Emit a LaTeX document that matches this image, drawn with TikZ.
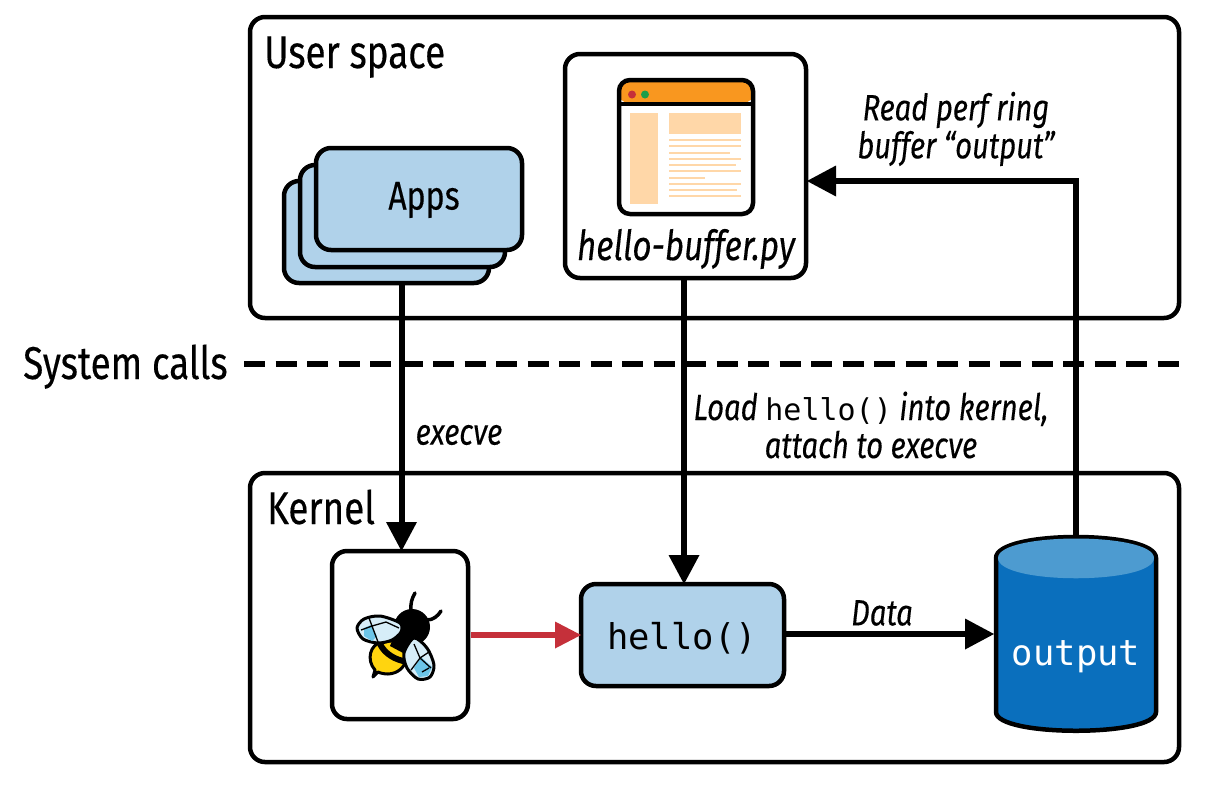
\documentclass[tikz,border=0pt]{standalone}
\usepackage{fontspec}
\setmainfont{Fira Sans}[FakeStretch=0.8,FakeBold=0.25]
\setmonofont{DejaVu Sans Mono}
\usetikzlibrary{arrows.meta}
\definecolor{lblue}{HTML}{B0D2EA}
\definecolor{dblue}{HTML}{0A6FBD}
\definecolor{mblue}{HTML}{4D9BD0}
\definecolor{ored}{HTML}{C5303A}
\definecolor{orng}{HTML}{F9971F}
\definecolor{pch}{HTML}{FFD7A8}
\definecolor{byel}{HTML}{FFD40F}
\definecolor{wing}{HTML}{D6EDF8}
\definecolor{wing2}{HTML}{6CC5E8}
\definecolor{dgreen}{HTML}{1E9E4A}
\tikzset{
  x=1pt,y=-1pt,
  box/.style={draw=black,line width=4.5pt,rounded corners=15pt,anchor=north west,inner sep=0pt,outer sep=0pt,fill=white},
  appbox/.style={box,fill=lblue},
  conn/.style={line width=6pt,-{Triangle[length=29pt,width=31pt,line width=0pt]}},
  lab/.style={font=\itshape\fontsize{36.5}{38}\selectfont,align=center,inner sep=0pt},
  head/.style={font=\fontsize{46}{48}\selectfont,inner sep=0pt,anchor=base west},
  mono/.style={font=\ttfamily\fontsize{35.5}{40}\selectfont,inner sep=0pt},
}
\begin{document}
\begin{tikzpicture}
\useasboundingbox (0,0) rectangle (1206,785);
\fill[white] (0,0) rectangle (1206,785);
\node[box,minimum width=929pt,minimum height=301pt] (user) at (250,17) {};
\node[box,minimum width=929pt,minimum height=289pt] (kernel) at (250,473) {};
\node[head] (ut) at (264,68) {User space};
\node[head] (kt) at (267,524) {Kernel};
\node[head] (sc) at (23,379) {System calls};
\node[appbox,minimum width=205pt,minimum height=102pt] (apps3) at (284,181) {};
\node[appbox,minimum width=205pt,minimum height=102pt] (apps2) at (300,165) {};
\node[appbox,minimum width=206pt,minimum height=102pt] (apps1) at (316,148) {};
\node[font=\fontsize{40}{44}\selectfont,inner sep=0pt] (appst) at (424,200) {Apps};
% script box
\node[box,minimum width=241pt,minimum height=224pt] (py) at (565,54) {};
\fill[orng,rounded corners=11pt] (618,79) -- (618,103) -- (754,103) -- (754,79) -- cycle;
\fill[pch] (630,113) rectangle (658,204);
\fill[pch] (669,113) rectangle (741,134);
\foreach \yy/\xe in {140/741,146/741,153/730,159/741,165/736,171/741,178/705,184/741,190/737,196/741}
  \draw[pch,line width=1.6pt] (669,\yy) -- (\xe,\yy);
\draw[line width=4.5pt,rounded corners=11pt] (619,80) rectangle (753,214);
\draw[line width=4.5pt] (619,104) -- (753,104);
\fill[ored] (632,94.5) circle (4pt);
\fill[dgreen] (645,94.5) circle (4pt);
\node[lab,font=\itshape\fontsize{41.5}{44}\selectfont] (pyt) at (686,249) {hello-buffer.py};
% bee box
\node[box,minimum width=136pt,minimum height=168pt] (bee) at (332,551) {};
\begin{scope}[line join=round]
  \draw[line width=3.5pt,line cap=round] (411,612) .. controls (410,604) and (412,598) .. (415,593);
  \draw[line width=3.5pt,line cap=round] (427,620) .. controls (433,620) and (438,616) .. (441,611);
  \draw[line width=3pt,fill=byel] (373,677) -- (375,670) .. controls (366,660) and (370,644) .. (382,642)
     -- (400,640) .. controls (412,650) and (408,673) .. (388,674) .. controls (384,674) and (380,673) .. (378,672) -- cycle;
  \draw[black,line width=6pt] (380,644) .. controls (385,654) and (395,660) .. (408,662);
  \fill[black] (412,627) circle (18pt);
  \fill[black] (394,636) -- (415,640) -- (405,654) -- (390,646) -- cycle;
  \draw[line width=3pt,fill=wing] plot[smooth cycle] coordinates {(357,628) (364,619) (380,616) (400,623) (401,632) (392,640) (378,643) (363,639)};
  \fill[wing2] (364,628) -- (371,625) -- (377,636) -- (372,641) -- (364,636) -- cycle;
  \draw[line width=1.3pt] (361,630) -- (372,626) -- (378,642) (372,626) -- (369,618) (372,626) -- (386,622) -- (399,628);
  \draw[line width=3pt,fill=wing] plot[smooth cycle] coordinates {(414,638) (427,648) (434,665) (430,677) (418,679) (407,668) (404,653)};
  \fill[wing2] (421,657) -- (432,667) -- (428,676) -- (419,677) -- (414,668) -- cycle;
  \draw[line width=1.3pt] (414,644) -- (420,658) -- (431,668) (420,658) -- (411,670) (420,658) -- (429,652) (422,672) -- (429,668);
\end{scope}
% hello function
\node[appbox,minimum width=203pt,minimum height=102pt] (fn) at (581,584) {};
\node[mono] (fnt) at (682,638) {hello()};
% cylinder
\draw[line width=4.5pt,fill=dblue] (996,558) .. controls (996,530) and (1156,530) .. (1156,558)
  -- (1156,712) .. controls (1156,737) and (996,737) .. (996,712) -- cycle;
\fill[mblue] (998,558) .. controls (998,532) and (1154,532) .. (1154,558)
  .. controls (1154,585) and (998,585) .. (998,558) -- cycle;
\node[mono,text=white] (cyt) at (1076,657) {output};
\coordinate (cyltop) at (1076,537);
\coordinate (cylwest) at (994,634);
\coordinate (readin) at (807,181);
\coordinate (sysa) at (244,364);
\coordinate (sysb) at (1182,364);
\coordinate (beetop) at ([xshift=1.5pt]bee.north);
\coordinate (fntop) at ([xshift=1.5pt]fn.north);
% connectors
\draw[line width=6pt,dash pattern=on 21pt off 10.5pt] (sysa) -- (sysb);
\draw[conn] (apps3.south -| beetop) -- (beetop);
\draw[conn] (py.south -| fntop) -- (fntop);
\draw[conn] (cyltop) |- (readin);
\draw[conn] (fn.east |- cylwest) -- (cylwest);
\draw[conn,draw=ored,-{Triangle[length=26pt,width=27pt,line width=0pt,fill=ored]}] (bee.east) ++(3,0) -- (fn.west);
% labels
\node[lab] (l1) at (956,129) {Read perf ring\\buffer “output”};
\node[lab] (l2) at (459,435) {execve};
\node[lab] (l3) at (871,425) {Load {\upshape\ttfamily\fontsize{30}{38}\selectfont hello()} into kernel,\\attach to execve};
\node[lab] (l4) at (882,613) {Data};
\end{tikzpicture}
\end{document}
